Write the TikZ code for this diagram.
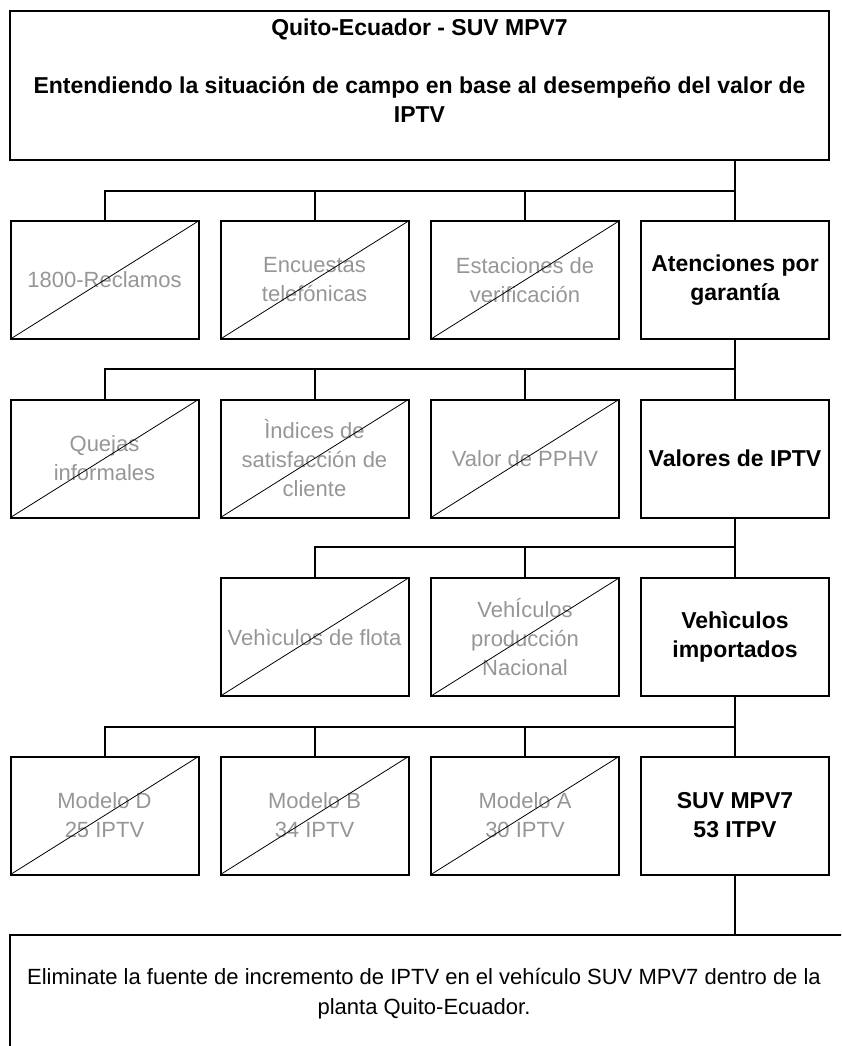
\documentclass[tikz,border=0pt]{standalone}
\usepackage{fontspec}
\setmainfont{Liberation Sans}
\begin{document}
\definecolor{fadetext}{RGB}{150,150,150}
\tikzset{
  every node/.style={inner sep=0pt, outer sep=0pt},
  box/.style={draw=black, line width=2pt, minimum width=188pt, minimum height=118pt, align=center},
  crossed/.style={box, text=fadetext, font=\fontsize{22}{29}\selectfont},
  keybox/.style={box, text=black, font=\fontsize{23}{29}\selectfont\bfseries},
  conn/.style={draw=black, line width=2pt},
  slash/.style={draw=black, line width=0.8pt},
}
\begin{tikzpicture}[x=1pt,y=-1pt]
\useasboundingbox (0,0) rectangle (841,1046);
\clip (0,0) rectangle (841,1046);
% top box
\node[draw=black, line width=2pt, minimum width=819pt, minimum height=149pt] (top) at (419.5,85.5) {};
\node[anchor=base, font=\fontsize{23}{29}\selectfont\bfseries] (t1) at (419.5,36) {Quito-Ecuador - SUV MPV7};
\node[anchor=base, font=\fontsize{23}{29}\selectfont\bfseries, align=center] (t2) at (419.5,123) {Entendiendo la situación de campo en base al desempeño del valor de\\IPTV};
% row 1
\node[crossed] (a1) at (104.5,280) {1800-Reclamos};
\node[crossed] (a2) at (314.5,280) {Encuestas\\telefónicas};
\node[crossed] (a3) at (525,280) {Estaciones de\\verificación};
\node[keybox] (a4) at (735,280) {Atenciones por\\garantía};
% row 2
\node[crossed] (b1) at (104.5,458.5) {Quejas\\informales};
\node[crossed] (b2) at (314.5,458.5) {Ìndices de\\satisfacción de\\cliente};
\node[crossed] (b3) at (525,458.5) {Valor de PPHV};
\node[keybox] (b4) at (735,458.5) {Valores de IPTV};
% row 3
\node[crossed] (c2) at (314.5,637) {Vehìculos de flota};
\node[crossed] (c3) at (525,637) {VehÍculos\\producción\\Nacional};
\node[keybox] (c4) at (735,637) {Vehìculos\\importados};
% row 4
\node[crossed] (d1) at (104.5,815.5) {Modelo D\\25 IPTV};
\node[crossed] (d2) at (314.5,815.5) {Modelo B\\34 IPTV};
\node[crossed] (d3) at (525,815.5) {Modelo A\\30 IPTV};
\node[keybox] (d4) at (735,815.5) {SUV MPV7\\53 ITPV};
% bottom box
\node[draw=black, line width=2pt, minimum width=850pt, minimum height=125pt] (bot) at (435,997.5) {};
\node[align=center, font=\fontsize{22}{30}\selectfont] (bt) at (424,994) {Eliminate la fuente de incremento de IPTV en el vehículo SUV MPV7 dentro de la\\planta Quito-Ecuador.};
% slashes
\foreach \n in {a1,a2,a3,b1,b2,b3,c2,c3,d1,d2,d3}{
  \draw[slash] (\n.south west) -- (\n.north east);
}
% buses
\coordinate (bus1) at (735,191);
\coordinate (bus2) at (735,369);
\coordinate (bus3) at (735,547);
\coordinate (bus4) at (735,727);
\draw[conn] (top.south -| a4.north) -- (a4.north);
\draw[conn] (a1.north) |- (bus1);
\draw[conn] (a2.north) -- (a2.north |- bus1);
\draw[conn] (a3.north) -- (a3.north |- bus1);
\draw[conn] (a4.south) -- (b4.north);
\draw[conn] (b1.north) |- (bus2);
\draw[conn] (b2.north) -- (b2.north |- bus2);
\draw[conn] (b3.north) -- (b3.north |- bus2);
\draw[conn] (b4.south) -- (c4.north);
\draw[conn] (c2.north) |- (bus3);
\draw[conn] (c3.north) -- (c3.north |- bus3);
\draw[conn] (c4.south) -- (d4.north);
\draw[conn] (d1.north) |- (bus4);
\draw[conn] (d2.north) -- (d2.north |- bus4);
\draw[conn] (d3.north) -- (d3.north |- bus4);
\draw[conn] (d4.south) -- (bot.north -| d4.south);
\end{tikzpicture}
\end{document}
